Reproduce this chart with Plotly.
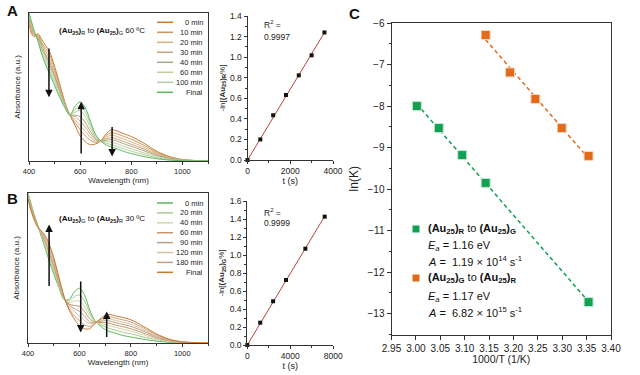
import numpy as np
import plotly.graph_objects as go

FONT = "Arial, 'Liberation Sans', sans-serif"
W, H = 640, 375

# ---------------- data ----------------
wavelength = [400, 410, 420, 435, 450, 465, 480, 500, 520, 540, 560, 580, 600, 620, 640,
              660, 680, 700, 720, 740, 770, 800, 850, 900, 950, 1000, 1100]

# Panel A: (Au25)R -> (Au25)G, 60 C
labels_a = ["0 min", "10 min", "20 min", "30 min", "40 min", "60 min", "100 min", "Final"]
colors_a = ["#c8782f", "#d19258", "#dbb07e", "#c7a27a", "#aaa584", "#c2cb98", "#afd0a2", "#5cb85a"]
a_0 = [0.93, 0.86, 0.84, 0.86, 0.82, 0.78, 0.74, 0.64, 0.52, 0.40, 0.31, 0.24, 0.17, 0.13, 0.11,
       0.115, 0.135, 0.18, 0.21, 0.205, 0.185, 0.165, 0.12, 0.065, 0.03, 0.01, 0.0]
a_10 = [0.94, 0.87, 0.85, 0.85, 0.80, 0.76, 0.72, 0.62, 0.51, 0.39, 0.31, 0.26, 0.21, 0.17, 0.14,
        0.125, 0.135, 0.17, 0.19, 0.186, 0.166, 0.147, 0.106, 0.057, 0.026, 0.009, 0.0]
a_20 = [0.95, 0.88, 0.85, 0.84, 0.79, 0.74, 0.69, 0.60, 0.49, 0.39, 0.31, 0.28, 0.24, 0.20, 0.16,
        0.135, 0.135, 0.158, 0.174, 0.168, 0.148, 0.129, 0.092, 0.05, 0.023, 0.008, 0.0]
a_30 = [0.96, 0.90, 0.86, 0.84, 0.78, 0.72, 0.67, 0.58, 0.48, 0.38, 0.31, 0.30, 0.27, 0.23, 0.18,
        0.144, 0.135, 0.149, 0.158, 0.151, 0.131, 0.113, 0.08, 0.043, 0.019, 0.006, 0.0]
a_40 = [0.97, 0.91, 0.86, 0.83, 0.76, 0.71, 0.65, 0.57, 0.47, 0.38, 0.31, 0.31, 0.30, 0.26, 0.20,
        0.152, 0.135, 0.14, 0.144, 0.137, 0.117, 0.099, 0.069, 0.037, 0.016, 0.005, 0.0]
a_60 = [0.98, 0.92, 0.87, 0.82, 0.75, 0.69, 0.63, 0.55, 0.46, 0.37, 0.31, 0.33, 0.34, 0.30, 0.225,
        0.162, 0.135, 0.13, 0.127, 0.119, 0.099, 0.082, 0.055, 0.029, 0.013, 0.004, 0.0]
a_100 = [0.99, 0.93, 0.87, 0.82, 0.73, 0.67, 0.61, 0.53, 0.44, 0.37, 0.31, 0.35, 0.37, 0.33, 0.25,
         0.171, 0.135, 0.12, 0.111, 0.102, 0.082, 0.066, 0.043, 0.022, 0.009, 0.003, 0.0]
a_final = [1.00, 0.94, 0.88, 0.81, 0.72, 0.65, 0.59, 0.51, 0.43, 0.36, 0.31, 0.37, 0.40, 0.36, 0.27,
           0.18, 0.135, 0.11, 0.095, 0.085, 0.065, 0.05, 0.03, 0.015, 0.006, 0.002, 0.0]
spectra_a = [a_0, a_10, a_20, a_30, a_40, a_60, a_100, a_final]

# Panel B: (Au25)G -> (Au25)R, 30 C
labels_b = ["0 min", "20 min", "40 min", "60 min", "90 min", "120 min", "180 min", "Final"]
colors_b = ["#5cb85a", "#a9c995", "#cfd6a6", "#c9936a", "#b9a089", "#d8c0a0", "#c9a07e", "#c8782f"]
b_0 = [1.00, 0.94, 0.88, 0.80, 0.72, 0.64, 0.56, 0.46, 0.37, 0.29, 0.29, 0.34, 0.365, 0.32, 0.22,
       0.15, 0.115, 0.09, 0.075, 0.065, 0.05, 0.04, 0.025, 0.012, 0.005, 0.001, 0.0]
b_20 = [0.99, 0.93, 0.87, 0.80, 0.73, 0.65, 0.58, 0.48, 0.38, 0.29, 0.28, 0.31, 0.32, 0.28, 0.20,
        0.146, 0.123, 0.107, 0.096, 0.086, 0.072, 0.061, 0.04, 0.021, 0.009, 0.002, 0.0]
b_40 = [0.99, 0.92, 0.87, 0.79, 0.73, 0.67, 0.60, 0.50, 0.39, 0.30, 0.27, 0.28, 0.28, 0.24, 0.18,
        0.143, 0.13, 0.122, 0.114, 0.104, 0.091, 0.079, 0.054, 0.028, 0.012, 0.003, 0.0]
b_60 = [0.98, 0.92, 0.86, 0.79, 0.73, 0.68, 0.61, 0.51, 0.40, 0.30, 0.26, 0.25, 0.245, 0.21, 0.16,
        0.14, 0.137, 0.136, 0.13, 0.12, 0.108, 0.095, 0.066, 0.035, 0.015, 0.004, 0.0]
b_90 = [0.98, 0.91, 0.86, 0.79, 0.74, 0.69, 0.63, 0.53, 0.41, 0.30, 0.25, 0.23, 0.21, 0.18, 0.14,
        0.138, 0.143, 0.149, 0.146, 0.136, 0.124, 0.111, 0.078, 0.042, 0.017, 0.005, 0.0]
b_120 = [0.97, 0.90, 0.85, 0.79, 0.74, 0.70, 0.64, 0.54, 0.42, 0.30, 0.24, 0.21, 0.18, 0.15, 0.13,
         0.135, 0.148, 0.16, 0.16, 0.15, 0.139, 0.125, 0.088, 0.048, 0.02, 0.006, 0.0]
b_180 = [0.97, 0.90, 0.85, 0.78, 0.75, 0.71, 0.66, 0.56, 0.43, 0.31, 0.23, 0.18, 0.15, 0.12, 0.11,
         0.133, 0.154, 0.173, 0.175, 0.165, 0.154, 0.14, 0.099, 0.054, 0.022, 0.007, 0.0]
b_final = [0.96, 0.89, 0.84, 0.78, 0.75, 0.72, 0.67, 0.57, 0.44, 0.31, 0.22, 0.16, 0.115, 0.095, 0.095,
           0.13, 0.16, 0.185, 0.19, 0.18, 0.17, 0.155, 0.11, 0.06, 0.025, 0.008, 0.0]
spectra_b = [b_0, b_20, b_40, b_60, b_90, b_120, b_180, b_final]

# Kinetics
t_a = [0, 600, 1200, 1800, 2400, 3000, 3600]
lnr_a = [0.0, 0.20, 0.435, 0.632, 0.823, 1.018, 1.24]
t_b = [0, 1200, 2400, 3600, 5400, 7200]
lng_b = [0.0, 0.248, 0.486, 0.722, 1.07, 1.426]

# Arrhenius (panel C)
invT_rg = [3.002, 3.047, 3.095, 3.143, 3.354]
lnk_rg = [-8.0, -8.53, -9.18, -9.85, -12.72]
invT_gr = [3.143, 3.193, 3.245, 3.299, 3.354]
lnk_gr = [-6.29, -7.19, -7.83, -8.53, -9.2]
green_c = "#12a052"
orange_c = "#e26a1c"

# ---------------- helpers ----------------
def px(x):
    return x / W

def py(y):
    return 1 - y / H

fig = go.Figure()

for vals, lab, col in zip(spectra_a, labels_a, colors_a):
    fig.add_trace(go.Scatter(x=wavelength, y=vals, mode="lines", name=lab,
                             line=dict(color=col, width=1, shape="spline", smoothing=0.8),
                             xaxis="x", yaxis="y", showlegend=False))
for vals, lab, col in zip(spectra_b, labels_b, colors_b):
    fig.add_trace(go.Scatter(x=wavelength, y=vals, mode="lines", name=lab,
                             line=dict(color=col, width=1, shape="spline", smoothing=0.8),
                             xaxis="x3", yaxis="y3", showlegend=False))

# kinetics fits through origin
ka = float(np.dot(t_a, lnr_a) / np.dot(t_a, t_a))
kb = float(np.dot(t_b, lng_b) / np.dot(t_b, t_b))
fig.add_trace(go.Scatter(x=[0, max(t_a)], y=[0, ka * max(t_a)], mode="lines",
                         line=dict(color="#b8443a", width=1), xaxis="x2", yaxis="y2", showlegend=False))
fig.add_trace(go.Scatter(x=t_a, y=lnr_a, mode="markers", cliponaxis=False,
                         marker=dict(symbol="square", size=4, color="#111"),
                         xaxis="x2", yaxis="y2", showlegend=False))
fig.add_trace(go.Scatter(x=[0, max(t_b)], y=[0, kb * max(t_b)], mode="lines",
                         line=dict(color="#b8443a", width=1), xaxis="x4", yaxis="y4", showlegend=False))
fig.add_trace(go.Scatter(x=t_b, y=lng_b, mode="markers", cliponaxis=False,
                         marker=dict(symbol="square", size=4, color="#111"),
                         xaxis="x4", yaxis="y4", showlegend=False))

# Arrhenius fits
for xs, ys, col in [(invT_rg, lnk_rg, green_c), (invT_gr, lnk_gr, orange_c)]:
    m, c = np.polyfit(xs, ys, 1)
    xl = [min(xs), max(xs)]
    fig.add_trace(go.Scatter(x=xl, y=[m * v + c for v in xl], mode="lines",
                             line=dict(color=col, width=1.5, dash="4px,3px"),
                             xaxis="x5", yaxis="y5", showlegend=False))
    fig.add_trace(go.Scatter(x=xs, y=ys, mode="markers",
                             marker=dict(symbol="square", size=9, color=col,
                                         line=dict(color="#f6d9c0" if col == orange_c else "#c6ead4", width=1)),
                             xaxis="x5", yaxis="y5", showlegend=False))

tickf = dict(family=FONT, size=8, color="#222")
axis_common = dict(showline=True, linecolor="#333", linewidth=1, zeroline=False, showgrid=False,
                   ticks="outside", ticklen=3, tickcolor="#333", tickfont=tickf, automargin=False)

spec_x = dict(axis_common, range=[400, 1100], tickvals=[400, 600, 800, 1000],
              minor=dict(dtick=100, tick0=400, ticks="outside", ticklen=2, tickcolor="#333"),
              mirror=True, tickfont=dict(family=FONT, size=7.5, color="#222"),
              title=dict(text="Wavelength (nm)", font=dict(family=FONT, size=8, color="#222"), standoff=2))
spec_y = dict(showline=True, linecolor="#333", linewidth=1, mirror=True, zeroline=False, showgrid=False,
              range=[0, 1.0], showticklabels=False, ticks="", automargin=False,
              title=dict(text="Absorbance (a.u.)", font=dict(family=FONT, size=8, color="#222"), standoff=6))

kin_title = dict(family=FONT, size=9, color="#222")
fig.update_layout(
    width=W, height=H, margin=dict(l=0, r=0, t=0, b=0, pad=0, autoexpand=False),
    paper_bgcolor="white", plot_bgcolor="white", font=dict(family=FONT, color="#222"),
    xaxis=dict(spec_x, domain=[px(29), px(208)], anchor="y"),
    yaxis=dict(spec_y, domain=[py(161), py(13)], anchor="x"),
    xaxis3=dict(spec_x, domain=[px(28), px(208)], anchor="y3"),
    yaxis3=dict(spec_y, domain=[py(343), py(193)], anchor="x3"),
    xaxis2=dict(axis_common, domain=[px(247.5), px(333)], anchor="y2", range=[0, 4000],
                tickvals=[0, 2000, 4000], minor=dict(dtick=1000, ticks="outside", ticklen=2, tickcolor="#333"),
                tickfont=dict(family=FONT, size=8.5, color="#222"),
                title=dict(text="t (s)", font=kin_title, standoff=1)),
    yaxis2=dict(axis_common, domain=[py(160), py(16)], anchor="x2", range=[0, 1.4], dtick=0.2,
                tickformat=".1f", minor=dict(dtick=0.1, ticks="outside", ticklen=2, tickcolor="#333"),
                tickfont=dict(family=FONT, size=8.5, color="#222"),
                title=dict(text="-ln[<b>(Au<sub>25</sub>)<sub>R</sub></b>%]", font=dict(family=FONT, size=8, color="#222"), standoff=3)),
    xaxis4=dict(axis_common, domain=[px(247.3), px(333.3)], anchor="y4", range=[0, 8000],
                tickvals=[0, 4000, 8000], minor=dict(dtick=2000, ticks="outside", ticklen=2, tickcolor="#333"),
                tickfont=dict(family=FONT, size=8.5, color="#222"),
                title=dict(text="t (s)", font=kin_title, standoff=1)),
    yaxis4=dict(axis_common, domain=[py(345), py(201)], anchor="x4", range=[0, 1.6], dtick=0.2,
                tickformat=".1f", minor=dict(dtick=0.1, ticks="outside", ticklen=2, tickcolor="#333"),
                tickfont=dict(family=FONT, size=8.5, color="#222"),
                title=dict(text="-ln[<b>(Au<sub>25</sub>)<sub>G</sub></b>%]", font=dict(family=FONT, size=8, color="#222"), standoff=3)),
    xaxis5=dict(axis_common, domain=[px(391.5), px(611)], anchor="y5", range=[2.95, 3.40], dtick=0.05,
                tick0=2.95, tickformat=".2f", mirror=True, ticklen=4,
                tickfont=dict(family=FONT, size=10, color="#222"),
                title=dict(text="1000/T (1/K)", font=dict(family=FONT, size=10.5, color="#222"), standoff=2)),
    yaxis5=dict(axis_common, domain=[py(334.5), py(23)], anchor="x5", range=[-13.5, -6], dtick=1,
                mirror=True, ticklen=4, minor=dict(dtick=0.5, ticks="outside", ticklen=2, tickcolor="#333"),
                tickfont=dict(family=FONT, size=10, color="#222"),
                title=dict(text="ln(K)", font=dict(family=FONT, size=12, color="#222"), standoff=6)),
)

ann = []
shapes = []

def note(text, x, y, size, xanchor="left", color="#111"):
    ann.append(dict(text=text, x=px(x), y=py(y), xref="paper", yref="paper",
                    xanchor=xanchor, yanchor="middle", showarrow=False,
                    font=dict(family=FONT, size=size, color=color)))

# panel letters
for txt, x, y in [("A", 12, 11), ("B", 12, 199), ("C", 354, 14)]:
    note(f"<b>{txt}</b>", x, y, 15, xanchor="center")

# spectra titles
note("<b>(Au<sub>25</sub>)</b><sub>R</sub> to <b>(Au<sub>25</sub>)</b><sub>G</sub> 60 ºC", 57, 31, 8)
note("<b>(Au<sub>25</sub>)</b><sub>G</sub> to <b>(Au<sub>25</sub>)</b><sub>R</sub> 30 ºC", 57, 219, 8)

# manual legends
for labs, cols, y0, dy in [(labels_a, colors_a, 22.3, 10), (labels_b, colors_b, 203, 9.9)]:
    for i, (lab, col) in enumerate(zip(labs, cols)):
        yy = y0 + i * dy
        shapes.append(dict(type="line", xref="paper", yref="paper", x0=px(157), x1=px(173),
                           y0=py(yy), y1=py(yy), line=dict(color=col, width=1.5)))
        note(lab, 205, yy, 7.5, xanchor="right", color="#222")

# arrows in spectra
for xr, yr, x, y, ax_, ay_ in [("x", "y", 478, 0.43, 478, 0.77), ("x", "y", 604, 0.40, 604, 0.04),
                               ("x", "y", 725, 0.03, 725, 0.24),
                               ("x3", "y3", 482, 0.79, 482, 0.37), ("x3", "y3", 605, 0.07, 605, 0.42),
                               ("x3", "y3", 706, 0.21, 706, 0.03)]:
    ann.append(dict(x=x, y=y, ax=ax_, ay=ay_, xref=xr, yref=yr, axref=xr, ayref=yr, text="",
                    showarrow=True, arrowhead=2, arrowsize=1, arrowwidth=1.5, arrowcolor="#111"))

# R^2 texts
for txt, y in [("R<sup>2</sup> =", 25), ("0.9997", 37), ("R<sup>2</sup> =", 212), ("0.9999", 223)]:
    note(txt, 262, y, 8.5, color="#222")

# panel C legend
c_lines = [
    ("<b>(Au<sub>25</sub>)<sub>R</sub></b> to <b>(Au<sub>25</sub>)<sub>G</sub></b>", 229),
    ("<i>E<sub>a</sub></i> = 1.16 eV", 246),
    ("<i>A</i> =  1.19 × 10<sup>14</sup> s<sup>-1</sup>", 261),
    ("<b>(Au<sub>25</sub>)<sub>G</sub></b> to <b>(Au<sub>25</sub>)<sub>R</sub></b>", 278),
    ("<i>E<sub>a</sub></i> = 1.17 eV", 297),
    ("<i>A</i> =  6.82 × 10<sup>15</sup> s<sup>-1</sup>", 312),
]
for txt, y in c_lines:
    note(txt, 426, y, 11)
for col, y in [(green_c, 229), (orange_c, 278)]:
    shapes.append(dict(type="rect", xref="paper", yref="paper", x0=px(412.5), x1=px(419.5),
                       y0=py(y + 3.5), y1=py(y - 3.5), fillcolor=col, line=dict(width=0)))

fig.update_layout(annotations=ann, shapes=shapes)
fig.write_html("out.html", config={"displayModeBar": False},
               post_script="document.body.style.margin='0px';document.body.style.overflow='hidden';")
